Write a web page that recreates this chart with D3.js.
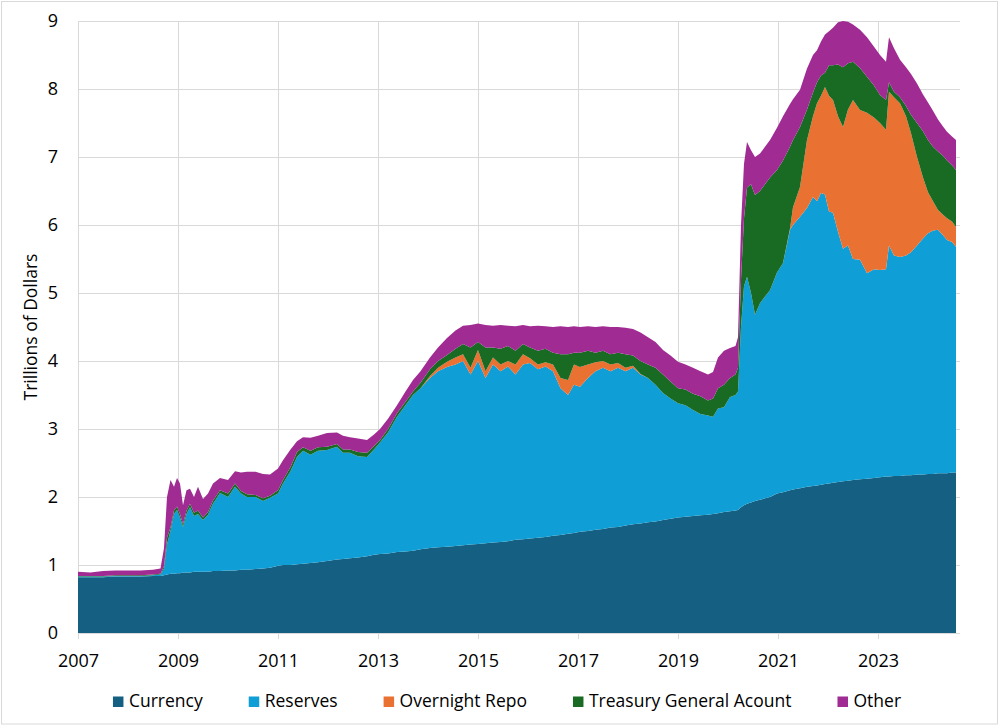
<!DOCTYPE html>
<html>
<head>
<meta charset="utf-8">
<script src="https://cdn.jsdelivr.net/npm/d3@7"></script>
<style>
  body { margin: 0; background: #fff; }
  svg { font-family: "Open Sans", Lato, sans-serif; }
</style>
</head>
<body>
<svg id="chart" width="1000" height="726"></svg>
<script>
// decimal years
const dates = [
  2007.00, 2007.25, 2007.50, 2007.75, 2008.00, 2008.25, 2008.50, 2008.65, 2008.72, 2008.78,
  2008.85, 2008.92, 2008.98, 2009.04, 2009.10, 2009.17, 2009.24, 2009.32, 2009.40, 2009.50,
  2009.60, 2009.70, 2009.84, 2010.00, 2010.14, 2010.26, 2010.38, 2010.55, 2010.70, 2010.84,
  2011.00, 2011.10, 2011.25, 2011.38, 2011.50, 2011.65, 2011.80, 2011.98, 2012.18, 2012.30,
  2012.44, 2012.60, 2012.78, 2012.92, 2013.04, 2013.20, 2013.38, 2013.55, 2013.70, 2013.85,
  2014.04, 2014.20, 2014.38, 2014.55, 2014.70, 2014.85, 2015.00, 2015.15, 2015.30, 2015.45,
  2015.60, 2015.75, 2015.90, 2016.04, 2016.20, 2016.35, 2016.50, 2016.65, 2016.80, 2016.92,
  2017.04, 2017.20, 2017.35, 2017.50, 2017.65, 2017.80, 2017.95, 2018.10, 2018.25, 2018.40,
  2018.55, 2018.70, 2018.85, 2019.00, 2019.15, 2019.30, 2019.45, 2019.60, 2019.70, 2019.80,
  2019.92, 2020.04, 2020.15, 2020.20, 2020.26, 2020.32, 2020.38, 2020.46, 2020.54, 2020.64,
  2020.74, 2020.84, 2020.98, 2021.10, 2021.24, 2021.30, 2021.44, 2021.58, 2021.70, 2021.78,
  2021.86, 2021.94, 2022.02, 2022.10, 2022.20, 2022.30, 2022.40, 2022.50, 2022.64, 2022.78,
  2022.92, 2023.04, 2023.16, 2023.22, 2023.32, 2023.44, 2023.56, 2023.66, 2023.78, 2023.90,
  2024.00, 2024.10, 2024.20, 2024.30, 2024.38, 2024.48, 2024.56
]

// trillions of dollars, each layer's own thickness
const currency = [
  .82, .82, .82, .83, .83, .83, .84, .84, .85, .86,
  .87, .87, .88, .88, .89, .89, .89, .90, .90, .90,
  .90, .91, .91, .92, .92, .93, .93, .94, .95, .96,
  .99, 1.00, 1.00, 1.01, 1.02, 1.03, 1.04, 1.06, 1.08, 1.09,
  1.10, 1.11, 1.13, 1.15, 1.16, 1.17, 1.19, 1.20, 1.21, 1.23,
  1.25, 1.26, 1.27, 1.28, 1.29, 1.30, 1.31, 1.32, 1.33, 1.34,
  1.35, 1.37, 1.38, 1.39, 1.40, 1.41, 1.43, 1.44, 1.46, 1.47,
  1.49, 1.50, 1.52, 1.53, 1.55, 1.56, 1.58, 1.60, 1.61, 1.63,
  1.64, 1.66, 1.68, 1.70, 1.71, 1.72, 1.73, 1.74, 1.75, 1.76,
  1.78, 1.79, 1.80, 1.81, 1.85, 1.88, 1.90, 1.92, 1.94, 1.96,
  1.98, 2.00, 2.05, 2.07, 2.10, 2.11, 2.13, 2.15, 2.16, 2.17,
  2.18, 2.19, 2.20, 2.21, 2.22, 2.23, 2.24, 2.25, 2.26, 2.27,
  2.28, 2.29, 2.30, 2.30, 2.31, 2.31, 2.32, 2.32, 2.33, 2.33,
  2.34, 2.34, 2.35, 2.35, 2.35, 2.36, 2.36
]

const reserves = [
  .01, .01, .01, .01, .01, .01, .01, .02, .10, .44,
  .63, .88, .93, .82, .67, .86, .96, .82, .85, .76,
  .84, .99, 1.15, 1.08, 1.23, 1.12, 1.07, 1.06, .99, 1.03,
  1.06, 1.20, 1.38, 1.58, 1.66, 1.59, 1.64, 1.63, 1.66, 1.56,
  1.55, 1.49, 1.46, 1.55, 1.64, 1.78, 1.99, 2.15, 2.29, 2.37,
  2.50, 2.59, 2.64, 2.67, 2.71, 2.50, 2.69, 2.43, 2.62, 2.51,
  2.57, 2.43, 2.57, 2.58, 2.48, 2.51, 2.42, 2.16, 2.04, 2.18,
  2.13, 2.25, 2.33, 2.37, 2.30, 2.34, 2.27, 2.30, 2.19, 2.12,
  2.01, 1.87, 1.77, 1.68, 1.64, 1.56, 1.49, 1.46, 1.43, 1.54,
  1.54, 1.68, 1.70, 1.74, 2.65, 3.22, 3.34, 3.08, 2.74, 2.89,
  2.97, 3.04, 3.25, 3.37, 3.83, 3.89, 3.99, 4.10, 4.25, 4.18,
  4.29, 4.26, 4.00, 3.97, 3.68, 3.42, 3.46, 3.25, 3.23, 3.02,
  3.07, 3.05, 3.05, 3.40, 3.24, 3.22, 3.23, 3.28, 3.37, 3.47,
  3.54, 3.58, 3.58, 3.50, 3.43, 3.39, 3.32
]

const repo = [
  0, 0, 0, 0, 0, 0, 0, 0, 0, 0,
  0, 0, 0, 0, 0, 0, 0, 0, 0, 0,
  0, 0, 0, 0, 0, 0, 0, 0, 0, 0,
  0, 0, 0, 0, 0, 0, 0, 0, 0, 0,
  0, 0, 0, 0, 0, 0, 0, 0, 0, 0,
  .03, .05, .08, .10, .10, .10, .16, .10, .10, .10,
  .08, .15, .15, .07, .07, .06, .10, .15, .22, .30,
  .29, .20, .13, .10, .10, .07, .05, .03, .01, 0,
  0, 0, 0, 0, 0, 0, 0, 0, 0, 0,
  0, 0, 0, 0, 0, 0, 0, 0, 0, 0,
  0, 0, 0, 0, .02, .26, .44, 1.00, 1.19, 1.44,
  1.43, 1.58, 1.70, 1.66, 1.70, 1.79, 2.00, 2.34, 2.20, 2.36,
  2.23, 2.16, 2.05, 2.26, 2.33, 2.26, 2.05, 1.75, 1.30, .90,
  .60, .43, .29, .30, .32, .30, .29
]

const tga = [
  .01, .01, .01, .01, .01, .01, .01, .01, .03, .10,
  .05, .05, .05, .05, .04, .05, .05, .05, .05, .04,
  .04, .05, .04, .05, .05, .04, .04, .03, .04, .03,
  .05, .05, .06, .07, .05, .06, .05, .05, .04, .05,
  .05, .06, .06, .05, .04, .05, .05, .05, .05, .08,
  .10, .10, .10, .13, .15, .30, .12, .35, .15, .23,
  .22, .20, .15, .16, .20, .20, .17, .35, .38, .17,
  .21, .20, .14, .15, .15, .15, .20, .15, .19, .20,
  .25, .27, .25, .22, .23, .24, .26, .22, .27, .30,
  .33, .28, .30, .35, .70, 1.00, 1.31, 1.60, 1.76, 1.65,
  1.65, 1.66, 1.51, 1.51, 1.20, .99, .88, .45, .35, .31,
  .30, .21, .45, .51, .76, .88, .68, .56, .62, .53,
  .47, .41, .44, .14, .08, .09, .15, .27, .50, .68,
  .77, .80, .86, .87, .85, .83, .84
]

const other = [
  .06, .05, .07, .07, .07, .07, .07, .08, .27, .60,
  .70, .35, .42, .45, .28, .30, .22, .23, .35, .27,
  .27, .25, .18, .20, .18, .27, .33, .34, .36, .31,
  .32, .29, .26, .16, .15, .19, .17, .20, .17, .20,
  .18, .20, .19, .17, .16, .15, .12, .15, .17, .17,
  .17, .20, .25, .27, .27, .33, .27, .33, .32, .35,
  .30, .36, .28, .31, .37, .33, .38, .41, .40, .39,
  .38, .36, .38, .36, .40, .38, .39, .39, .42, .40,
  .38, .36, .38, .39, .37, .38, .37, .38, .39, .45,
  .50, .44, .42, .45, .80, .80, .67, .50, .56, .55,
  .55, .55, .62, .65, .63, .60, .55, .60, .55, .47,
  .50, .56, .50, .55, .62, .68, .61, .55, .56, .58,
  .57, .59, .56, .66, .64, .55, .57, .60, .58, .54,
  .55, .53, .47, .43, .42, .42, .44
]

const seriesNames = ["Currency", "Reserves", "Overnight Repo", "Treasury General Acount", "Other"]
const seriesColors = ["#156082", "#0F9ED5", "#E97132", "#196B24", "#A02B93"]
const yearTicks = [2007, 2009, 2011, 2013, 2015, 2017, 2019, 2021, 2023]
const valueTicks = [0, 1, 2, 3, 4, 5, 6, 7, 8, 9]

const seriesValues = [currency, reserves, repo, tga, other]
const rows = dates.map((d, i) => {
  const r = { date: d }
  seriesNames.forEach((n, k) => { r[n] = seriesValues[k][i] })
  return r
})

const svg = d3.select("#chart")
const plotLeft = 78, plotRight = 960, plotTop = 21, plotBottom = 633
const labelFont = "'Open Sans', Lato, sans-serif"

svg.append("rect")
  .attr("x", 1.5).attr("y", 1.5)
  .attr("width", 996).attr("height", 722.5)
  .attr("fill", "#fff").attr("stroke", "#d9d9d9")

const x = d3.scaleLinear().domain([2007, 2024.64]).range([plotLeft, plotRight])
const y = d3.scaleLinear().domain([0, 9]).range([plotBottom, plotTop])

// grid
svg.append("g")
  .attr("transform", `translate(${plotLeft},0)`)
  .call(d3.axisLeft(y).tickValues(valueTicks).tickSize(-(plotRight - plotLeft)).tickFormat(""))
  .call(g => g.select(".domain").remove())
  .call(g => g.selectAll("line").attr("stroke", "#d9d9d9"))

svg.append("g")
  .attr("transform", `translate(0,${plotBottom + 6})`)
  .call(d3.axisBottom(x).tickValues(yearTicks).tickSize(-(plotBottom + 6 - plotTop)).tickFormat(""))
  .call(g => g.select(".domain").remove())
  .call(g => g.selectAll("line").attr("stroke", "#d9d9d9"))

// stacked areas
const stack = d3.stack().keys(seriesNames)
const layers = stack(rows)
const area = d3.area()
  .x(d => x(d.data.date))
  .y0(d => y(d[0]))
  .y1(d => y(d[1]))
  .curve(d3.curveLinear)

svg.append("g").selectAll("path")
  .data(layers)
  .join("path")
  .attr("fill", (d, i) => seriesColors[i])
  .attr("d", area)

// tick labels
svg.append("g")
  .attr("transform", `translate(${plotLeft},0)`)
  .call(d3.axisLeft(y).tickValues(valueTicks).tickSize(0).tickPadding(20).tickFormat(d3.format("d")))
  .call(g => g.select(".domain").remove())
  .call(g => g.selectAll("text").attr("font-size", 18).attr("fill", "#000").style("font-family", labelFont))

svg.append("g")
  .attr("transform", `translate(0,${plotBottom})`)
  .call(d3.axisBottom(x).tickValues(yearTicks).tickSize(0).tickPadding(21).tickFormat(d3.format("d")))
  .call(g => g.select(".domain").remove())
  .call(g => g.selectAll("text").attr("font-size", 18).attr("fill", "#000").style("font-family", labelFont))

svg.append("text")
  .attr("transform", "translate(37,327) rotate(-90)")
  .attr("text-anchor", "middle")
  .attr("font-size", 17.5)
  .text("Trillions of Dollars")

// legend
const legend = svg.append("g")
const items = legend.selectAll("g")
  .data(seriesNames)
  .join("g")
items.append("rect")
  .attr("width", 10.5).attr("height", 10.5)
  .attr("y", 696.5)
  .attr("fill", (d, i) => seriesColors[i])
items.append("text")
  .attr("x", 16).attr("y", 707)
  .attr("font-size", 17.5)
  .text(d => d)

let pos = 0
const offsets = []
items.each(function () {
  offsets.push(pos)
  const w = d3.select(this).select("text").node().getComputedTextLength()
  pos += 16 + w + 46
})
const total = pos - 46
const start = 507 - total / 2
items.attr("transform", (d, i) => `translate(${start + offsets[i]},0)`)
</script>
</body>
</html>
